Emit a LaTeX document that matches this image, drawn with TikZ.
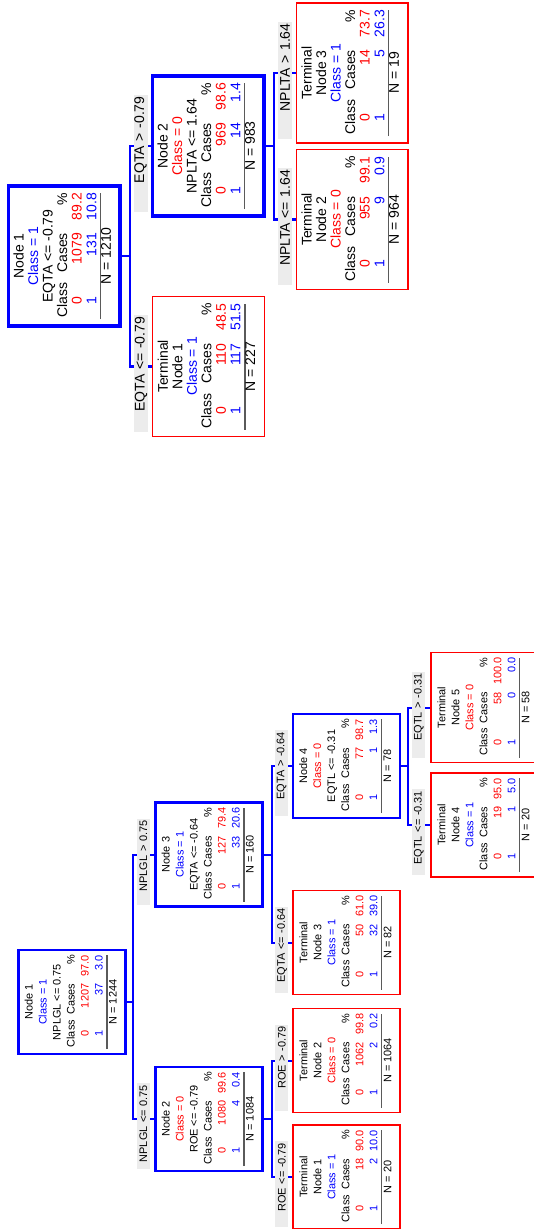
\documentclass[tikz,border=0pt]{standalone}
\usepackage{fontspec}
\setmainfont{Liberation Sans}
\usepackage{array}
\usepackage{xcolor}

\definecolor{cartblue}{RGB}{0,0,255}
\definecolor{cartred}{RGB}{255,0,0}
\definecolor{splitgray}{RGB}{236,236,236}
\definecolor{rulegray}{RGB}{90,90,90}

\newlength{\cwa}\newlength{\cwb}\newlength{\cwc}
\newcommand{\cartstats}[8]{%
\begin{tabular}{@{}w{c}{\cwa}@{}w{r}{\cwb}@{}w{r}{\cwc}@{}}
\multicolumn{3}{@{}c@{}}{#1}\\
\multicolumn{3}{@{}c@{}}{#2}\\
\multicolumn{3}{@{}c@{}}{#3}\\
Class & Cases & \%\\
\color{cartred}0 & \color{cartred}#4 & \color{cartred}#5\\
\color{cartblue}1 & \color{cartblue}#6 & \color{cartblue}#7\\
\noalign{\vskip-.6pt\begingroup\color{rulegray}\hrule height 1.2pt\endgroup\vskip-.6pt}
\multicolumn{3}{@{}c@{}}{N = #8}
\end{tabular}}
\newcommand{\classzero}{\textcolor{cartred}{Class = 0}}
\newcommand{\classone}{\textcolor{cartblue}{Class = 1}}

\begin{document}
\begin{tikzpicture}[x=0.75pt,y=-0.75pt]
\tikzset{splitbox/.style 2 args={rotate=90,draw=cartblue,line width=2.4pt,inner sep=0pt,minimum width=#1,minimum height=#2},
termbox/.style 2 args={rotate=90,draw=cartred,line width=1pt,inner sep=0pt,minimum width=#1,minimum height=#2},
cartedge/.style={draw=cartblue,line width=2pt},
splitlabel/.style={rotate=90,fill=splitgray,inner xsep=1.5pt,inner ysep=0pt,align=right}}
\useasboundingbox (0,0) rectangle (534,1229);

% upper tree
\begin{scope}[font=\fontsize{10.5}{10.9}\selectfont,splitlabel/.append style={text width=84.75pt,minimum height=10.5pt}]
\setlength{\cwa}{28pt}\setlength{\cwb}{36.5pt}\setlength{\cwc}{30pt}
\node[splitbox={105pt}{83.6pt}](up1) at (64.3,256){\cartstats{Node 1}{\classone}{EQTA <= -0.79}{1079}{89.2}{131}{10.8}{1210}};
\node[splitbox={105pt}{83.6pt}](up2) at (208.3,146){\cartstats{Node 2}{\classzero}{NPLTA <= 1.64}{969}{98.6}{14}{1.4}{983}};
\node[termbox={105pt}{83.6pt}](upt1) at (208.5,366.5){\cartstats{Terminal}{Node 1}{\classone}{110}{48.5}{117}{51.5}{227}};
\node[termbox={105pt}{83.6pt}](upt2) at (352.3,219.5){\cartstats{Terminal}{Node 2}{\classzero}{955}{99.1}{9}{0.9}{964}};
\node[termbox={105pt}{83.6pt}](upt3) at (352.3,73){\cartstats{Terminal}{Node 3}{\classone}{14}{73.7}{5}{26.3}{19}};
\draw[cartedge](up1.south) -- ++(8.5,0) |- (up2.north) node[yshift=-5.25pt,splitlabel,pos=.75](upl2){EQTA > -0.79};
\draw[cartedge](up1.south) -- ++(8.5,0) |- (upt1.north) node[yshift=-5.25pt,splitlabel,pos=.75](uplt1){EQTA <= -0.79};
\draw[cartedge](up2.south) -- ++(8.5,0) |- (upt3.north) node[yshift=-5.25pt,splitlabel,pos=.75](uplt3){NPLTA > 1.64};
\draw[cartedge](up2.south) -- ++(8.5,0) |- (upt2.north) node[yshift=-5.25pt,splitlabel,pos=.75](uplt2){NPLTA <= 1.64};
\end{scope}

% lower tree
\begin{scope}[font=\fontsize{8.2}{10.5}\selectfont,splitlabel/.append style={text width=61.5pt,minimum height=9.75pt},
splitbox/.append style={line width=1.8pt},cartedge/.append style={line width=1.5pt}]
\setlength{\cwa}{23pt}\setlength{\cwb}{26pt}\setlength{\cwc}{21.5pt}
\node[splitbox={78pt}{80.25pt}](lo1) at (71.9,1002){\cartstats{Node 1}{\classone}{NPLGL <= 0.75}{1207}{97.0}{37}{3.0}{1244}};
\node[splitbox={78pt}{80.25pt}](lo3) at (208.9,854.5){\cartstats{Node 3}{\classone}{EQTA <= -0.64}{127}{79.4}{33}{20.6}{160}};
\node[splitbox={78pt}{80.25pt}](lo2) at (208.9,1119){\cartstats{Node 2}{\classzero}{ROE <= -0.79}{1080}{99.6}{4}{0.4}{1084}};
\node[splitbox={78pt}{80.25pt}](lo4) at (346.3,766){\cartstats{Node 4}{\classzero}{EQTL <= -0.31}{77}{98.7}{1}{1.3}{78}};
\node[termbox={78pt}{80.25pt}](lot3) at (346.5,942.5){\cartstats{Terminal}{Node 3}{\classone}{50}{61.0}{32}{39.0}{82}};
\node[termbox={78pt}{80.25pt}](lot2) at (346.5,1060.5){\cartstats{Terminal}{Node 2}{\classzero}{1062}{99.8}{2}{0.2}{1064}};
\node[termbox={78pt}{80.25pt}](lot1) at (346.5,1177){\cartstats{Terminal}{Node 1}{\classone}{18}{90.0}{2}{10.0}{20}};
\node[termbox={82.5pt}{80.25pt}](lot5) at (484.5,707.5){\setlength{\cwc}{26pt}\cartstats{Terminal}{Node 5}{\classzero}{58}{100.0}{0}{0.0}{58}};
\node[termbox={78pt}{80.25pt}](lot4) at (484.5,825){\cartstats{Terminal}{Node 4}{\classone}{19}{95.0}{1}{5.0}{20}};
\draw[cartedge](lo1.south) -- ++(6,0) |- (lo3.north) node[yshift=-5.25pt,splitlabel,pos=.75](lol3){NPLGL > 0.75};
\draw[cartedge](lo1.south) -- ++(6,0) |- (lo2.north) node[yshift=-5.25pt,splitlabel,pos=.75](lol2){NPLGL <= 0.75};
\draw[cartedge](lo3.south) -- ++(8,0) |- (lo4.north) node[yshift=-5.25pt,splitlabel,pos=.75](lol4){EQTA > -0.64};
\draw[cartedge](lo3.south) -- ++(8,0) |- (lot3.north) node[yshift=-5.25pt,splitlabel,pos=.75](lolt3){EQTA <= -0.64};
\draw[cartedge](lo2.south) -- ++(8,0) |- (lot2.north) node[yshift=-5.25pt,splitlabel,pos=.75](lolt2){ROE > -0.79};
\draw[cartedge](lo2.south) -- ++(8,0) |- (lot1.north) node[yshift=-5.25pt,splitlabel,pos=.75](lolt1){ROE <= -0.79};
\draw[cartedge](lo4.south) -- ++(6.5,0) |- (lot5.north) node[yshift=-5.25pt,splitlabel,pos=.75](lolt5){EQTL > -0.31};
\draw[cartedge](lo4.south) -- ++(6.5,0) |- (lot4.north) node[yshift=-5.25pt,splitlabel,pos=.75](lolt4){EQTL <= -0.31};
\end{scope}
\end{tikzpicture}
\end{document}
